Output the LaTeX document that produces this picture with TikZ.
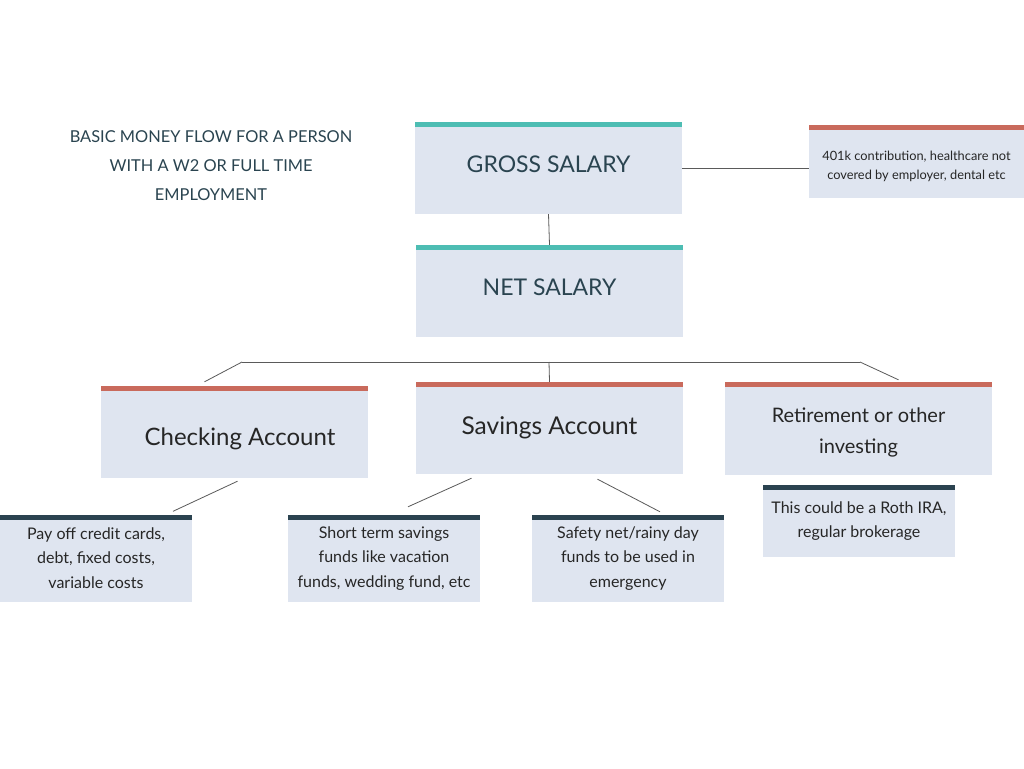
\documentclass[tikz,border=0pt]{standalone}
\usepackage{fontspec}
\setmainfont{Lato}
\definecolor{cardfill}{HTML}{DFE5F0}
\definecolor{barteal}{HTML}{4DBDB3}
\definecolor{barred}{HTML}{C96A5C}
\definecolor{bardark}{HTML}{2B4350}
\definecolor{inkdark}{HTML}{2A4450}
\definecolor{wire}{HTML}{5A5A5A}
\tikzset{
  card/.style={rectangle, fill=cardfill, inner sep=0pt, align=center, text=black!85,
    path picture={\fill[#1] (path picture bounding box.north west) rectangle ([yshift=-5pt]path picture bounding box.north east);}},
  wide/.style={minimum width=267pt, minimum height=92pt},
  narrow/.style={minimum width=192pt, minimum height=87pt},
  link/.style={draw=wire, line width=0.8pt}
}
\newcommand{\lowered}[2]{\raisebox{-#1}[0pt][0pt]{#2}}
\begin{document}
\begin{tikzpicture}[x=1pt,y=-1pt]
\useasboundingbox[fill=white] (0,0) rectangle (1024,768);

\node[text=inkdark, align=center, font=\fontsize{16.4}{29}\selectfont] (title) at (211,166)
  {BASIC MONEY FLOW FOR A PERSON\\WITH A W2 OR FULL TIME\\EMPLOYMENT};

\node[card=barteal, wide, text=inkdark, font=\fontsize{23}{27}\selectfont] (gross) at (548.5,168) {\lowered{4pt}{GROSS SALARY}};
\node[card=barteal, wide, text=inkdark, font=\fontsize{23}{27}\selectfont] (net) at (549.5,291) {\lowered{4pt}{NET SALARY}};
\node[card=barred, minimum width=215pt, minimum height=73pt, font=\fontsize{12.8}{19}\selectfont] (deduct) at (916.5,161.5)
  {\rule{0pt}{19pt}401k contribution, healthcare not\\covered by employer, dental etc};

\node[card=barred, wide, font=\fontsize{24}{28}\selectfont] (checking) at (234.5,432) {\lowered{13pt}{\hspace*{11pt}Checking Account}};
\node[card=barred, wide, font=\fontsize{24.5}{28}\selectfont] (savings) at (549.5,428) {\lowered{6pt}{Savings Account}};
\node[card=barred, wide, minimum height=93pt, font=\fontsize{20}{31}\selectfont] (retire) at (858.5,428.5)
  {\rule{0pt}{22.5pt}Retirement or other\\investing};

\node[card=bardark, narrow, font=\fontsize{16}{24.5}\selectfont] (pay) at (96,558)
  {Pay off credit cards,\\debt, fixed costs,\\variable costs};
\node[card=bardark, narrow, font=\fontsize{16}{24.5}\selectfont] (short) at (384,558.5)
  {Short term savings\\funds like vacation\\funds, wedding fund, etc};
\node[card=bardark, narrow, font=\fontsize{16}{24.5}\selectfont] (safety) at (628,558.5)
  {Safety net/rainy day\\funds to be used in\\emergency};
\node[card=bardark, minimum width=192pt, minimum height=72pt, font=\fontsize{16}{24}\selectfont] (roth) at (859,521)
  {This could be a Roth IRA,\\regular brokerage};

% connectors
\draw[link] (gross.south) -- (net.north);
\draw[link] (gross.east) -- (deduct.west |- gross.east);

\coordinate (busL) at (242,362);
\coordinate (busM) at (549,362);
\coordinate (busR) at (860,362);
\draw[link] (busL) -- (busR);
\draw[link] (busM) -- (savings.north);
\draw[link] (busL) -- ([xshift=-30pt,yshift=4pt]checking.north);
\draw[link] (busR) -- ([xshift=40pt,yshift=2pt]retire.north);

\draw[link] ([xshift=3pt,yshift=-3pt]checking.south) -- ([xshift=77pt,yshift=3pt]pay.north);
\draw[link] ([xshift=-78pt,yshift=-4pt]savings.south) -- ([xshift=24pt,yshift=8pt]short.north);
\draw[link] ([xshift=48pt,yshift=-5pt]savings.south) -- ([xshift=32pt,yshift=3pt]safety.north);

\end{tikzpicture}
\end{document}
